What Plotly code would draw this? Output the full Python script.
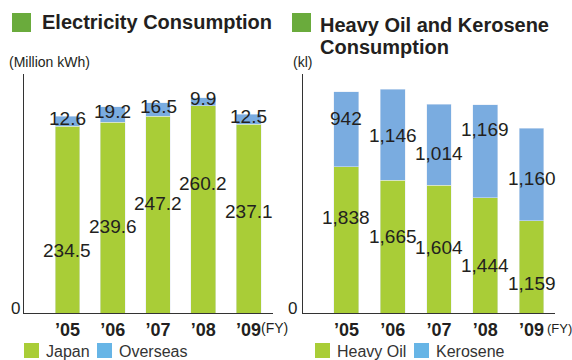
import plotly.graph_objects as go

# ---- data ----
years = ["’05", "’06", "’07", "’08", "’09"]
japan = [234.5, 239.6, 247.2, 260.2, 237.1]
overseas = [12.6, 19.2, 16.5, 9.9, 12.5]
heavy_oil = [1838, 1665, 1604, 1444, 1159]
kerosene = [942, 1146, 1014, 1169, 1160]

# label heights (data units) as placed in the original artwork
japan_label_y = [79, 108, 138, 163, 127]
heavy_label_y = [1204, 966, 816, 602, 376]
kero_label_y = [2447, 2233, 2008, 2309, 1694]

GREEN = "#a9cd37"
BLUE = "#7aace0"
LEG_BLUE = "#67b5e6"
TITLE_GREEN = "#6aab3c"
TXT = "#231f20"
FONT = "Liberation Sans, Arial, sans-serif"

W, H = 572, 360
def px(x):
    return x / W
def py(y):
    return (H - y) / H

fig = go.Figure()
fig.add_bar(x=years, y=japan, marker_color=GREEN, width=0.552, xaxis="x", yaxis="y", showlegend=False)
fig.add_bar(x=years, y=overseas, marker_color=BLUE, width=0.552, xaxis="x", yaxis="y", showlegend=False)
fig.add_bar(x=years, y=heavy_oil, marker_color=GREEN, width=0.54, xaxis="x2", yaxis="y2", showlegend=False)
fig.add_bar(x=years, y=kerosene, marker_color=BLUE, width=0.54, xaxis="x2", yaxis="y2", showlegend=False)

ann = []
lab_font = dict(family=FONT, size=19, color=TXT)
for i, yr in enumerate(years):
    ann.append(dict(x=yr, y=japan_label_y[i], xref="x", yref="y", text=f"{japan[i]:.1f}",
                    showarrow=False, font=lab_font))
    ann.append(dict(x=yr, y=japan[i] + overseas[i] / 2, xref="x", yref="y", text=f"{overseas[i]:.1f}",
                    showarrow=False, font=lab_font, yshift=3))
    ann.append(dict(x=yr, y=heavy_label_y[i], xref="x2", yref="y2", text=f"{heavy_oil[i]:,}",
                    showarrow=False, font=lab_font))
    ann.append(dict(x=yr, y=kero_label_y[i], xref="x2", yref="y2", text=f"{kerosene[i]:,}",
                    showarrow=False, font=lab_font))

# zero labels of the value axes
ann.append(dict(x=px(22), y=0, xref="paper", yref="y", xanchor="right", yanchor="bottom",
                text="0", showarrow=False, font=dict(family=FONT, size=17, color=TXT), yshift=-7))
ann.append(dict(x=px(299), y=0, xref="paper", yref="y2", xanchor="right", yanchor="bottom",
                text="0", showarrow=False, font=dict(family=FONT, size=17, color=TXT), yshift=-7))

# titles
ann.append(dict(x=px(40), y=py(22), xref="paper", yref="paper", xanchor="left", yanchor="middle",
                text="<b>Electricity Consumption</b>", showarrow=False,
                font=dict(family=FONT, size=20, color=TXT)))
ann.append(dict(x=px(318), y=py(25), xref="paper", yref="paper", xanchor="left", yanchor="middle",
                text="<b>Heavy Oil and Kerosene</b>", showarrow=False,
                font=dict(family=FONT, size=20, color=TXT)))
ann.append(dict(x=px(318), y=py(47), xref="paper", yref="paper", xanchor="left", yanchor="middle",
                text="<b>Consumption</b>", showarrow=False,
                font=dict(family=FONT, size=20, color=TXT)))
# units
ann.append(dict(x=px(7), y=py(62), xref="paper", yref="paper", xanchor="left", yanchor="middle",
                text="(Million kWh)", showarrow=False, font=dict(family=FONT, size=14, color=TXT)))
ann.append(dict(x=px(291), y=py(62), xref="paper", yref="paper", xanchor="left", yanchor="middle",
                text="(kl)", showarrow=False, font=dict(family=FONT, size=14, color=TXT)))
# FY
ann.append(dict(x=px(259), y=py(328), xref="paper", yref="paper", xanchor="left", yanchor="middle",
                text="(FY)", showarrow=False, font=dict(family=FONT, size=14, color=TXT)))
ann.append(dict(x=px(545), y=py(328), xref="paper", yref="paper", xanchor="left", yanchor="middle",
                text="(FY)", showarrow=False, font=dict(family=FONT, size=13, color=TXT)))

# legends
legend_items = [(24, GREEN, "Japan"), (97, LEG_BLUE, "Overseas"),
                (315, GREEN, "Heavy Oil"), (414, LEG_BLUE, "Kerosene")]
shapes = []
for x0, col, name in legend_items:
    shapes.append(dict(type="rect", xref="paper", yref="paper", x0=px(x0), x1=px(x0 + 15),
                       y0=py(358), y1=py(343), fillcolor=col, line_width=0))
    ann.append(dict(x=px(x0 + 20), y=py(351), xref="paper", yref="paper", xanchor="left", yanchor="middle",
                    text=name, showarrow=False, font=dict(family=FONT, size=16, color="#333333")))
# title squares
for x0 in (12, 292):
    shapes.append(dict(type="rect", xref="paper", yref="paper", x0=px(x0), x1=px(x0 + 19),
                       y0=py(32), y1=py(13), fillcolor=TITLE_GREEN, line_width=0))

axis_common = dict(showgrid=False, zeroline=False, showline=True, linecolor="#333333", linewidth=1.2)
xtick = dict(tickmode="array", tickvals=years, ticktext=[f"<b>{t}</b>" for t in years],
             tickfont=dict(family=FONT, size=18, color=TXT), ticks="", ticklabelstandoff=0)
fig.update_layout(
    width=W, height=H, margin=dict(l=0, r=0, t=0, b=0),
    paper_bgcolor="white", plot_bgcolor="white",
    barmode="stack", showlegend=False,
    annotations=ann, shapes=shapes,
    xaxis=dict(domain=[px(24), px(273)], range=[-0.961, 4.541], anchor="y", **xtick, **axis_common),
    yaxis=dict(domain=[py(313), py(74)], range=[0, 300], anchor="x",
               showticklabels=False, ticks="", **axis_common),
    xaxis2=dict(domain=[px(303), px(555)], range=[-0.94, 4.508], anchor="y2", **xtick, **axis_common),
    yaxis2=dict(domain=[py(313), py(74)], range=[0, 3000], anchor="x2",
                showticklabels=False, ticks="", **axis_common),
)

fig.write_html("out.html")
